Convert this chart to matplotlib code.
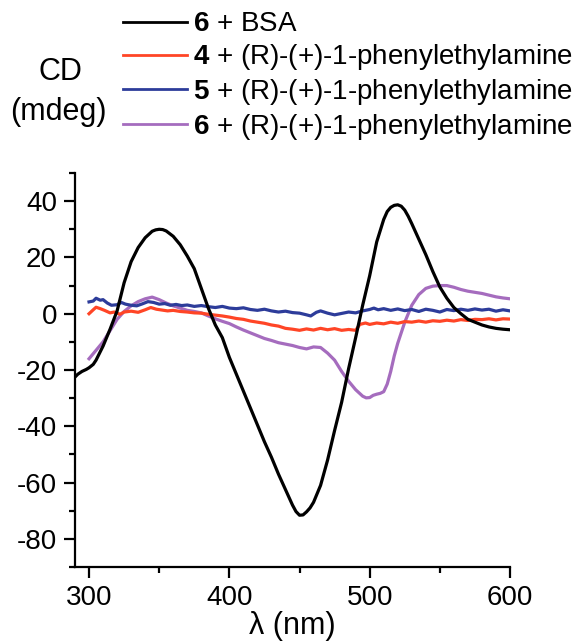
import matplotlib
matplotlib.use("Agg")
import matplotlib.pyplot as plt
from matplotlib.lines import Line2D
from matplotlib.ticker import MultipleLocator, FixedLocator

plt.rcParams['font.family'] = ['Liberation Sans', 'DejaVu Sans']
plt.rcParams['mathtext.fontset'] = 'custom'
plt.rcParams['mathtext.rm'] = 'Liberation Sans'
plt.rcParams['mathtext.bf'] = 'Liberation Sans:bold'
plt.rcParams['axes.unicode_minus'] = False

# ---- data -------------------------------------------------------------
# 6 + BSA
wl_bsa = [290, 292, 295, 298, 300, 303, 305, 310, 315, 320, 325, 330, 335,
          340, 345, 347.5, 350, 352.5, 355, 360, 365, 370, 375, 380, 385,
          390, 395, 400, 405, 410, 415, 420, 425, 430, 435, 440, 445, 447.5,
          450, 452.5, 455, 457.5, 460, 465, 470, 475, 480, 485, 490, 495,
          500, 505, 510, 512.5, 515, 517.5, 520, 522.5, 525, 527.5, 530,
          535, 540, 545, 550, 555, 560, 565, 570, 575, 580, 585, 590, 595,
          600]
cd_bsa = [-22.5, -21.5, -20.5, -19.8, -19.2, -18.0, -16.5, -11.5, -5.5, 1.0,
          11.0, 18.5, 23.5, 27.0, 29.3, 29.8, 30.0, 29.9, 29.4, 27.5, 24.5,
          20.5, 16.0, 9.0, 2.0, -4.0, -8.5, -15.5, -21.5, -27.5, -33.5,
          -39.5, -45.5, -51.0, -57.0, -62.5, -68.0, -70.3, -71.6, -71.5,
          -70.4, -69.0, -67.0, -61.0, -52.0, -41.5, -31.5, -19.5, -8.5, 3.0,
          13.5, 25.5, 33.5, 36.3, 37.8, 38.5, 38.7, 38.2, 36.8, 34.6, 32.0,
          26.5, 21.0, 15.0, 9.5, 5.5, 2.2, 0.0, -2.0, -3.0, -4.0, -4.7, -5.2,
          -5.5, -5.7]

# 4 + (R)-(+)-1-phenylethylamine
wl_4 = [300, 303, 305, 308, 311, 315, 318, 322, 325, 330, 335, 340, 344, 348,
        352, 356, 360, 365, 370, 375, 380, 385, 390, 395, 400, 405, 410, 415,
        420, 425, 430, 435, 440, 445, 450, 455, 460, 465, 470, 475, 480, 485,
        490, 493, 497, 500, 505, 510, 515, 520, 525, 530, 535, 540, 545, 550,
        555, 560, 565, 570, 575, 580, 585, 590, 595, 600]
cd_4 = [0.0, 1.4, 2.3, 1.8, 1.2, 0.3, 0.6, -0.2, 0.6, 0.9, 0.5, 1.4, 2.2, 1.6,
        1.3, 1.0, 1.2, 0.8, 0.6, 0.3, 0.2, -0.2, -0.5, -0.8, -1.2, -1.7, -2.0,
        -2.6, -3.0, -3.4, -4.0, -4.4, -5.2, -5.5, -5.9, -5.4, -5.8, -5.2, -5.7,
        -5.3, -5.9, -5.6, -5.9, -3.8, -3.3, -3.8, -3.3, -3.6, -3.0, -3.4, -2.8,
        -3.0, -2.6, -3.0, -2.5, -2.7, -2.3, -2.6, -2.1, -2.4, -2.0, -2.1, -1.8,
        -2.2, -1.8, -1.9]

# 5 + (R)-(+)-1-phenylethylamine
wl_5 = [300, 303, 305, 308, 310, 313, 316, 320, 323, 326, 330, 334, 338, 342,
        346, 350, 354, 358, 362, 366, 370, 375, 380, 385, 390, 395, 400, 405,
        410, 415, 420, 425, 430, 435, 440, 445, 450, 455, 458, 462, 465, 470,
        475, 480, 485, 490, 495, 500, 503, 506, 510, 515, 520, 525, 530, 535,
        540, 545, 550, 555, 560, 565, 570, 575, 580, 585, 590, 595, 600]
cd_5 = [4.2, 4.5, 5.5, 4.8, 5.0, 3.8, 3.0, 3.2, 4.0, 3.4, 3.0, 2.8, 3.5, 4.3,
        4.0, 3.4, 3.6, 3.0, 3.3, 2.9, 3.1, 2.6, 2.9, 2.5, 2.2, 2.6, 2.0, 1.8,
        2.1, 1.5, 1.2, 1.6, 1.0, 0.6, 0.9, 0.4, 0.2, -0.4, -0.8, 0.5, 1.0, 0.2,
        -0.4, 0.1, 0.6, 0.3, 1.0, 1.5, 2.0, 1.4, 1.8, 1.2, 1.7, 1.1, 1.5, 0.8,
        1.6, 1.2, 0.6, 1.5, 1.1, 1.6, 1.2, 1.7, 1.3, 1.6, 0.9, 1.4, 1.0]

# 6 + (R)-(+)-1-phenylethylamine
wl_6 = [300, 305, 310, 315, 320, 325, 330, 335, 340, 345, 350, 355, 360, 365,
        370, 375, 380, 385, 390, 395, 400, 405, 410, 415, 420, 425, 430, 435,
        440, 445, 450, 455, 460, 465, 470, 475, 480, 485, 490, 495, 497.5,
        500, 502.5, 505, 507.5, 510, 512.5, 515, 517.5, 520, 525, 530, 535,
        540, 545, 550, 555, 560, 565, 570, 575, 580, 585, 590, 595, 600]
cd_6 = [-16.0, -13.0, -10.0, -6.0, -2.0, 0.8, 2.8, 4.3, 5.3, 5.9, 5.0, 3.8,
        2.8, 2.0, 1.2, 0.8, 0.3, -0.8, -1.8, -2.7, -3.5, -4.7, -5.8, -6.8,
        -7.8, -8.8, -9.5, -10.3, -10.8, -11.3, -12.0, -12.5, -11.8, -12.0,
        -14.0, -16.5, -20.5, -24.0, -27.0, -29.3, -29.9, -29.8, -29.0,
        -28.6, -28.3, -27.7, -25.0, -20.5, -15.0, -10.5, -3.0, 3.0, 6.8,
        9.0, 9.8, 10.0, 10.0, 9.4, 8.6, 8.0, 7.6, 7.2, 6.6, 6.0, 5.6, 5.3]

series = [
    (wl_bsa, cd_bsa, '#000000', r'$\mathbf{6}$ + BSA'),
    (wl_4, cd_4, '#FF4526', r'$\mathbf{4}$ + (R)-(+)-1-phenylethylamine'),
    (wl_5, cd_5, '#2D3C9A', r'$\mathbf{5}$ + (R)-(+)-1-phenylethylamine'),
    (wl_6, cd_6, '#A56CBE', r'$\mathbf{6}$ + (R)-(+)-1-phenylethylamine'),
]

x_ticks = [300, 400, 500, 600]
y_ticks = [-80, -60, -40, -20, 0, 20, 40]

# ---- figure -----------------------------------------------------------
W, H = 575, 641
fig = plt.figure(figsize=(W / 100, H / 100), dpi=100)
ax = fig.add_axes([75 / W, 74 / H, 435 / W, 394 / H])

# draw in reverse so the black trace stays on top
for wl, cd, col, _ in reversed(series):
    ax.plot(wl, cd, color=col, lw=2.3, solid_joinstyle='round')

ax.set_xlim(290, 600)
ax.set_ylim(-90, 50)
ax.xaxis.set_major_locator(FixedLocator(x_ticks))
ax.xaxis.set_minor_locator(FixedLocator([350, 450, 550]))
ax.yaxis.set_major_locator(FixedLocator(y_ticks))
ax.yaxis.set_minor_locator(MultipleLocator(10))

for s in ['top', 'right']:
    ax.spines[s].set_visible(False)
for s in ['left', 'bottom']:
    ax.spines[s].set_linewidth(1.6)

ax.tick_params(which='major', direction='out', length=8, width=1.6,
               labelsize=20, pad=5)
ax.tick_params(which='minor', direction='out', length=4.5, width=1.6)

# ---- legend and axis titles drawn in figure pixels ---------------------
row_y = [21.7, 55.0, 89.3, 124.0]
for (wl, cd, col, label), y in zip(series, row_y):
    fig.add_artist(Line2D([123 / W, 187 / W], [1 - y / H, 1 - y / H],
                          color=col, lw=2.0, transform=fig.transFigure))
    fig.text(193 / W, 1 - (y + 9.5) / H, label, fontsize=20,
             ha='left', va='baseline')

fig.text(60 / W, 1 - 72 / H, 'CD', fontsize=22, ha='center', va='center')
fig.text(58 / W, 1 - 112 / H, '(mdeg)', fontsize=22, ha='center',
         va='center')
fig.text(292 / W, 1 - 626 / H, 'λ (nm)', fontsize=22, ha='center',
         va='center')

fig.savefig('out.png', dpi=100)
